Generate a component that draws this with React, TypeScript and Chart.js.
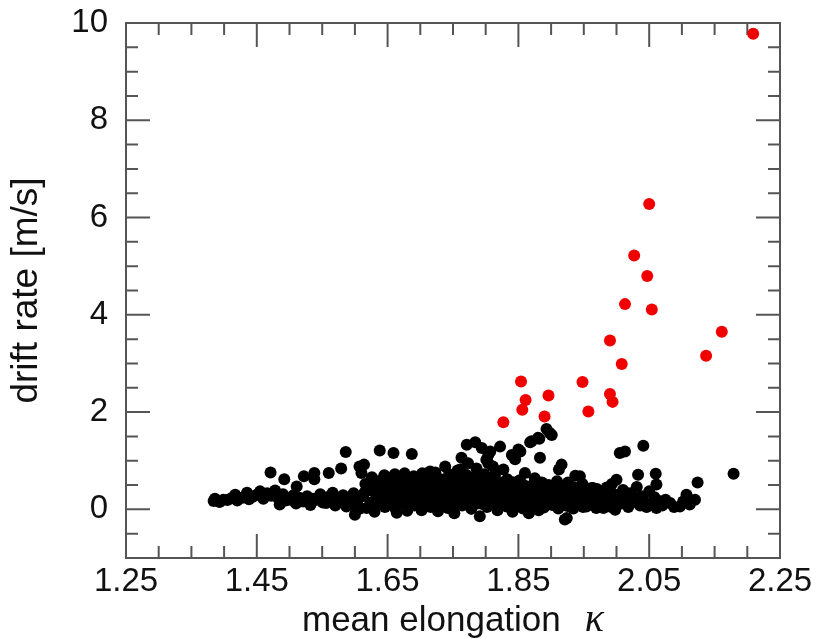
import React, { useEffect, useRef } from "react";
import { Chart, registerables } from "chart.js";

Chart.register(...registerables);

// ---- data ----
const xTickValues = [1.25, 1.45, 1.65, 1.85, 2.05, 2.25];
const yTickValues = [0, 2, 4, 6, 8, 10];
const xRange = [1.25, 2.25];
const yRange = [-1, 10];
const xTitle = "mean elongation";
const xTitleSymbol = "κ";
const yTitle = "drift rate [m/s]";

const redPoints: [number, number][] = [
  [2.209, 9.78], [2.05, 6.28], [2.027, 5.22], [2.047, 4.8], [2.013, 4.22], [2.054, 4.11],
  [1.99, 3.47], [2.161, 3.65], [2.137, 3.16], [2.008, 2.99], [1.854, 2.63], [1.948, 2.62],
  [1.896, 2.34], [1.861, 2.25], [1.99, 2.37], [1.994, 2.21], [1.856, 2.05], [1.957, 2.01],
  [1.89, 1.91], [1.827, 1.79],
];

const blackPointsA: [number, number][] = [
  [1.384, 0.17], [1.386, 0.22], [1.393, 0.15], [1.399, 0.2], [1.405, 0.19], [1.411, 0.23],
  [1.417, 0.3], [1.42, 0.18], [1.428, 0.24], [1.435, 0.34], [1.438, 0.21], [1.444, 0.26],
  [1.45, 0.3], [1.455, 0.37], [1.46, 0.22], [1.466, 0.33], [1.472, 0.28], [1.478, 0.39],
  [1.482, 0.24], [1.485, 0.1], [1.49, 0.31], [1.494, 0.18], [1.501, 0.2], [1.506, 0.29],
  [1.51, 0.12], [1.515, 0.24], [1.521, 0.16], [1.527, 0.27], [1.532, 0.09], [1.536, 0.22],
  [1.541, 0.2], [1.547, 0.31], [1.551, 0.14], [1.556, 0.13], [1.56, 0.26], [1.566, 0.34],
  [1.57, 0.08], [1.574, 0.19], [1.577, 0.16], [1.582, 0.29], [1.587, 0.06], [1.591, 0.24],
  [1.595, 0.1], [1.598, 0.33], [1.6, -0.11], [1.604, 0.18],
  [1.471, 0.76], [1.492, 0.62], [1.511, 0.47], [1.522, 0.68], [1.538, 0.75], [1.538, 0.62],
  [1.56, 0.75], [1.579, 0.84], [1.586, 1.18], [1.607, 0.88], [1.614, 0.92], [1.61, 0.75],
  [1.631, 0.58],
];

const blackPointsB: [number, number][] = [
  [1.608, 0.02], [1.612, 0.27], [1.618, 0.03], [1.621, 0.41], [1.624, 0.14], [1.628, 0.37],
  [1.63, -0.05], [1.634, 0.22], [1.638, 0.13], [1.638, 1.21], [1.641, 0.61], [1.643, 0.33],
  [1.646, 0.05], [1.65, 0.49], [1.652, 0.18], [1.655, 0.28], [1.659, 0.2], [1.659, 1.16],
  [1.659, 0.44], [1.662, 0.02], [1.664, 0.47], [1.664, -0.07], [1.667, 0.31], [1.67, 0.12],
  [1.672, 0.55], [1.675, 0.23], [1.678, 0.4], [1.68, -0.03], [1.683, 0.15], [1.685, 0.62],
  [1.687, 1.14], [1.688, 0.3], [1.691, 0.08], [1.694, 0.45], [1.697, 0.21], [1.7, 0.36],
  [1.702, -0.02], [1.705, 0.58],
];

const blackPointsC: [number, number][] = [
  [1.707, 0.14], [1.71, 0.29], [1.713, 0.47], [1.715, 0.78], [1.716, 0.05], [1.719, 0.35],
  [1.722, 0.19], [1.725, 0.6], [1.727, -0.04], [1.73, 0.42], [1.733, 0.11], [1.736, 0.27],
  [1.738, 0.88], [1.74, 0.52], [1.742, 0.03], [1.745, 0.33], [1.748, 0.17], [1.75, 0.66],
  [1.752, -0.08], [1.755, 0.4], [1.758, 0.24], [1.761, 0.82], [1.761, 0.55], [1.763, 1.06],
  [1.764, 0.08], [1.767, 0.3], [1.771, 1.33], [1.77, 0.71], [1.772, 0.15], [1.773, 0.95],
  [1.775, 0.45], [1.778, 0.01], [1.781, 0.6], [1.784, 1.38], [1.784, 0.22], [1.786, 0.84],
  [1.789, 0.36], [1.791, -0.14], [1.792, 0.7], [1.794, 1.26], [1.795, 0.11], [1.797, 0.5],
  [1.799, 0.27],
];

const blackPointsD: [number, number][] = [
  [1.801, 1.02], [1.802, 0.05], [1.804, 0.95], [1.804, 1.12], [1.806, 0.38], [1.807, 1.19],
  [1.809, 0.62], [1.811, 0.88], [1.812, 0.18], [1.815, 0.44], [1.818, -0.02], [1.82, 0.3],
  [1.822, 1.29], [1.823, 0.55], [1.826, 0.12], [1.827, 0.82], [1.829, 0.38], [1.832, 0.06],
  [1.835, 0.25], [1.838, 0.48], [1.84, 1.12], [1.841, -0.05], [1.843, 1.09], [1.844, 0.2],
  [1.845, 1.03], [1.847, 0.35], [1.85, 1.23], [1.85, 0.1], [1.853, 1.19], [1.854, 0.42],
  [1.857, 0.02], [1.86, 0.75], [1.86, 0.28], [1.863, 0.15], [1.866, -0.08], [1.868, 1.38],
  [1.869, 0.33], [1.87, 1.4], [1.872, 0.06], [1.875, 0.64], [1.875, 0.22], [1.878, 0.4],
  [1.88, 1.47], [1.881, -0.02], [1.882, 1.45], [1.883, 1.06], [1.884, 0.17], [1.887, 0.31],
  [1.889, 0.04], [1.892, 0.26], [1.893, 1.65], [1.895, 0.12], [1.898, 1.57], [1.898, 0.38],
  [1.901, 1.53],
];

const blackPointsE: [number, number][] = [
  [1.902, 0.09], [1.905, 0.3], [1.908, 0.2], [1.909, 0.58], [1.911, 0.02], [1.912, 0.82],
  [1.914, 0.36], [1.916, 0.92], [1.917, 0.13], [1.92, 0.25], [1.921, -0.21], [1.924, -0.18],
  [1.925, 0.07], [1.928, 0.33], [1.931, 0.16], [1.934, 0.02], [1.937, 0.69], [1.937, 0.28],
  [1.94, 0.1], [1.943, 0.4], [1.944, 0.68], [1.946, 0.19], [1.949, 0.05], [1.952, 0.31],
  [1.954, 0.06], [1.957, 0.22], [1.96, 0.12], [1.962, 0.44], [1.964, 0.44], [1.966, 0.29],
  [1.969, 0.03], [1.972, 0.18], [1.975, 0.35], [1.978, 0.09], [1.98, 0.03], [1.983, 0.26],
  [1.986, 0.14], [1.989, 0.38], [1.992, 0.05], [1.995, 0.21], [1.998, -0.01],
];

const blackPointsF: [number, number][] = [
  [2.0, 0.61], [2.003, 0.3], [2.005, 1.16], [2.007, 0.12], [2.01, 0.4], [2.013, 1.19],
  [2.015, 0.22], [2.018, 0.05], [2.021, 0.33], [2.025, 0.15], [2.028, 0.23], [2.031, 0.46],
  [2.033, 0.71], [2.036, 0.08], [2.039, 0.27], [2.041, 1.31], [2.044, 0.14], [2.046, 0.05],
  [2.05, 0.37], [2.054, 0.1], [2.058, 0.25], [2.06, 0.73], [2.061, 0.51], [2.061, 0.03],
  [2.065, 0.17], [2.07, 0.08], [2.075, 0.2], [2.082, 0.13], [2.088, 0.05], [2.097, 0.06],
  [2.102, 0.16], [2.107, 0.3], [2.112, 0.1], [2.12, 0.2], [2.124, 0.55], [2.179, 0.73],
];

const blackPointsUpperBand: [number, number][] = [
  [1.616, 0.52], [1.626, 0.66], [1.636, 0.48], [1.645, 0.7], [1.653, 0.6], [1.661, 0.72],
  [1.669, 0.64], [1.676, 0.74], [1.682, 0.5], [1.69, 0.68], [1.698, 0.55], [1.703, 0.74],
  [1.711, 0.64], [1.718, 0.56], [1.723, 0.76], [1.731, 0.62], [1.737, 0.48], [1.744, 0.72],
  [1.753, 0.58], [1.757, 0.8], [1.766, 0.62], [1.776, 0.66], [1.783, 0.5], [1.79, 0.58],
  [1.798, 0.72], [1.805, 0.6], [1.814, 0.7], [1.821, 0.46], [1.833, 0.62], [1.842, 0.56],
  [1.852, 0.6], [1.858, 0.5], [1.866, 0.45], [1.873, 0.52], [1.886, 0.55], [1.896, 0.5],
  [1.906, 0.45], [1.918, 0.48], [1.926, 0.55], [1.935, 0.45], [1.948, 0.52], [1.955, 0.38],
  [1.97, 0.42], [1.985, 0.45], [1.993, 0.52],
];

const blackPointsMidBand: [number, number][] = [
  [1.615, 0.35], [1.632, 0.44], [1.648, 0.4], [1.657, 0.1], [1.673, 0.36], [1.686, 0.4],
  [1.695, 0.25], [1.704, 0.3], [1.712, 0.2], [1.724, 0.36], [1.734, 0.2], [1.746, 0.45],
  [1.756, 0.12], [1.769, 0.4], [1.779, 0.3], [1.787, 0.12], [1.796, 0.38], [1.808, 0.25],
  [1.817, 0.1], [1.828, 0.25], [1.836, 0.12], [1.848, 0.22], [1.856, 0.3], [1.865, 0.38],
  [1.874, 0.1], [1.885, 0.28], [1.894, 0.42], [1.904, 0.2], [1.913, 0.25], [1.923, 0.4],
  [1.933, 0.22], [1.942, 0.3], [1.951, 0.15], [1.959, 0.3], [1.968, 0.2], [1.977, 0.25],
  [1.988, 0.25], [1.997, 0.3],
];

const blackPoints = [
  ...blackPointsA, ...blackPointsB, ...blackPointsC,
  ...blackPointsD, ...blackPointsE, ...blackPointsF,
  ...blackPointsUpperBand, ...blackPointsMidBand,
];

const FRAME = "#555555";
const TEXT = "#111111";
const SANS = "'Liberation Sans', Arial, Helvetica, sans-serif";

const frameTicks = {
  id: "frameTicks",
  beforeDatasetsDraw(chart: any) {
    const { ctx, chartArea: a, scales } = chart;
    const xs = scales.x;
    const ys = scales.y;
    ctx.save();
    ctx.strokeStyle = FRAME;
    ctx.lineWidth = 2;
    ctx.beginPath();
    for (let i = 0; i <= 20; i++) {
      const v = xRange[0] + i * 0.05;
      const px = xs.getPixelForValue(v);
      const len = i % 4 === 0 ? 24 : 12;
      ctx.moveTo(px, a.bottom);
      ctx.lineTo(px, a.bottom - len);
      ctx.moveTo(px, a.top);
      ctx.lineTo(px, a.top + len);
    }
    for (let i = 0; i <= 22; i++) {
      const v = yRange[0] + i * 0.5;
      const py = ys.getPixelForValue(v);
      const major = Math.abs(v % 2) < 1e-9;
      const len = major ? 24 : 12;
      ctx.moveTo(a.left, py);
      ctx.lineTo(a.left + len, py);
      ctx.moveTo(a.right, py);
      ctx.lineTo(a.right - len, py);
    }
    ctx.stroke();
    ctx.strokeRect(a.left, a.top, a.right - a.left, a.bottom - a.top);
    ctx.restore();
  },
  afterDraw(chart: any) {
    const { ctx, chartArea: a } = chart;
    ctx.save();
    ctx.fillStyle = TEXT;
    ctx.textBaseline = "alphabetic";
    ctx.textAlign = "left";
    const f1 = `35px ${SANS}`;
    const f2 = `italic 40px 'Liberation Serif', 'Times New Roman', serif`;
    ctx.font = f1;
    const w1 = ctx.measureText(xTitle).width;
    ctx.font = f2;
    const w2 = ctx.measureText(xTitleSymbol).width;
    const gap = 24;
    const total = w1 + gap + w2;
    const cx = (a.left + a.right) / 2;
    const x0 = cx - total / 2;
    const baseY = 630.5;
    ctx.font = f1;
    ctx.fillText(xTitle, x0, baseY);
    ctx.font = f2;
    ctx.fillText(xTitleSymbol, x0 + w1 + gap, baseY);
    ctx.restore();
  },
};

export default function App() {
  const ref = useRef<HTMLCanvasElement | null>(null);
  useEffect(() => {
    document.body.style.margin = "0";
    const canvas = ref.current;
    if (!canvas) return;
    const chart = new Chart(canvas, {
      type: "scatter",
      data: {
        datasets: [
          {
            label: "high drift",
            data: redPoints.map(([x, y]) => ({ x, y })),
            backgroundColor: "#f00000",
            pointRadius: 6,
            pointHoverRadius: 6,
            borderWidth: 0,
          },
          {
            label: "drift",
            data: blackPoints.map(([x, y]) => ({ x, y })),
            backgroundColor: "#000000",
            pointRadius: 6,
            pointHoverRadius: 6,
            borderWidth: 0,
          },
        ],
      },
      options: {
        responsive: false,
        animation: false,
        devicePixelRatio: 1,
        layout: { padding: { top: 23, right: 37, left: 0, bottom: 0 } },
        plugins: { legend: { display: false }, tooltip: { enabled: false } },
        scales: {
          x: {
            type: "linear",
            min: xRange[0],
            max: xRange[1],
            afterBuildTicks: (s: any) => {
              s.ticks = xTickValues.map((v) => ({ value: v }));
            },
            afterFit: (s: any) => {
              s.height = 80;
              s.paddingLeft = 0;
              s.paddingRight = 0;
            },
            grid: { display: false, drawTicks: false },
            border: { display: false },
            ticks: {
              autoSkip: false,
              maxRotation: 0,
              padding: 4,
              color: TEXT,
              font: { family: SANS, size: 33, lineHeight: 1.2 },
              callback: (v: any) => Number(v).toFixed(2),
            },
          },
          y: {
            type: "linear",
            min: yRange[0],
            max: yRange[1],
            afterBuildTicks: (s: any) => {
              s.ticks = yTickValues.map((v) => ({ value: v }));
            },
            afterFit: (s: any) => {
              s.width = 126;
              s.paddingTop = 0;
              s.paddingBottom = 0;
            },
            grid: { display: false, drawTicks: false },
            border: { display: false },
            ticks: {
              autoSkip: false,
              padding: 18,
              color: TEXT,
              font: { family: SANS, size: 33 },
              callback: (v: any) => String(v),
            },
            title: {
              display: true,
              text: yTitle,
              color: TEXT,
              font: { family: SANS, size: 37, lineHeight: 1.2 },
              padding: { top: 5, bottom: 0 },
            },
          },
        },
      },
      plugins: [frameTicks],
    });
    return () => chart.destroy();
  }, []);
  return (
    <div style={{ width: 817, height: 638, background: "#fff" }}>
      <canvas ref={ref} width={817} height={638} style={{ display: "block" }} />
    </div>
  );
}
